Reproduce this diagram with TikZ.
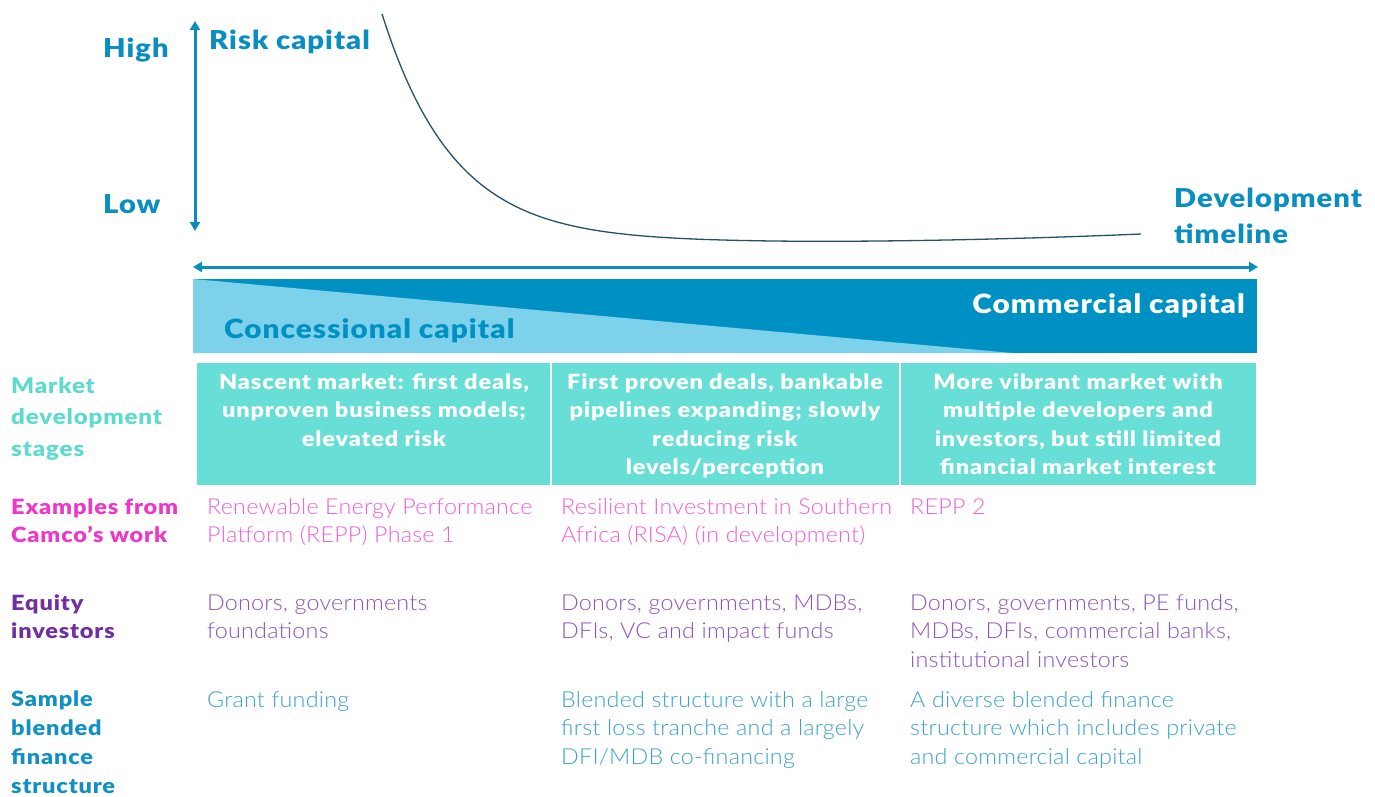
\documentclass[tikz,border=0pt]{standalone}
\usepackage{fontspec}
\setmainfont{Lato}
\newfontfamily\lightfont{Lato Light}[FakeStretch=1.06,LetterSpace=1]
\newfontfamily\heavyfont{Lato Black}[FakeStretch=1.12,LetterSpace=4]
\usetikzlibrary{arrows.meta}

\definecolor{axisblue}{RGB}{10,142,194}
\definecolor{bandblue}{RGB}{0,145,196}
\definecolor{bandlight}{RGB}{125,209,234}
\definecolor{stageteal}{RGB}{103,222,214}
\definecolor{labelteal}{RGB}{96,218,208}
\definecolor{pinklabel}{RGB}{236,56,200}
\definecolor{pinkbody}{RGB}{240,96,212}
\definecolor{purplelabel}{RGB}{112,48,160}
\definecolor{purplebody}{RGB}{142,82,184}
\definecolor{bluelabel}{RGB}{17,144,196}
\definecolor{bluebody}{RGB}{58,162,207}
\definecolor{curveslate}{RGB}{36,80,106}

% multi-line nodes are placed by the baseline of their last line
\begin{document}
\begin{tikzpicture}[x=1pt,y=-1pt,
  axisarrow/.style={axisblue,line width=3pt,
    {Triangle[length=9pt,width=10pt]}-{Triangle[length=9pt,width=10pt]}},
  bigtitle/.style={anchor=base west,inner sep=0pt,text=axisblue,
    font=\fontsize{26}{36}\selectfont\heavyfont,align=left},
  bandtext/.style={anchor=base west,inner sep=0pt,
    font=\fontsize{26.5}{34}\selectfont\heavyfont},
  stagebox/.style={fill=stageteal,draw=none},
  stagetext/.style={anchor=base,inner sep=0pt,text=white,align=center,
    font=\fontsize{21}{28.5}\selectfont\heavyfont},
  rowlabel/.style={anchor=base west,inner sep=0pt,align=left,
    font=\fontsize{21}{28.7}\selectfont\heavyfont},
  bodytext/.style={anchor=base west,inner sep=0pt,align=left,
    font=\fontsize{22}{28.7}\selectfont\lightfont},
]
\useasboundingbox (0,0) rectangle (1375,796);

% axes
\coordinate (ytop) at (195,21);
\coordinate (ybot) at (195,231);
\draw[axisarrow] (ytop) -- (ybot);
\coordinate (xleft) at (193,267);
\coordinate (xright) at (1258,267);
\draw[axisarrow] (xleft) -- (xright);

\node[bigtitle] (high) at (103,57) {High};
\node[bigtitle] (low) at (103,213) {Low};
\node[bigtitle] (risk) at (209,49) {Risk capital};
\node[bigtitle] (timeline) at (1174,243) {Development\\timeline};

% risk curve: exponential decay that turns slightly upwards at the end
\draw[curveslate,line width=1.3pt,line join=round] plot[domain=382:1141,samples=160]
  (\x,{242-228*exp(-(\x-382)/72)-8*(max(0,\x-760)/381)^2});

% capital band
\fill[bandblue] (193,279) rectangle (1257,353);
\fill[bandlight] (193,279) -- (1012,353) -- (193,353) -- cycle;
\node[bandtext,text=white,anchor=base east] (commercial) at (1245,313) {Commercial capital};
\node[bandtext,text=bandblue] (concessional) at (224,338) {Concessional capital};

% market stages
\fill[stagebox] (197,363) rectangle (550,485);
\fill[stagebox] (552,363) rectangle (899,485);
\fill[stagebox] (901,363) rectangle (1256,485);
\node[stagetext] (stage1) at (374,446) {Nascent market: first deals,\\unproven business models;\\elevated risk};
\node[stagetext] (stage2) at (725,474.5) {First proven deals, bankable\\pipelines expanding; slowly\\reducing risk\\levels/perception};
\node[stagetext] (stage3) at (1078,474.5) {More vibrant market with\\multiple developers and\\investors, but still limited\\financial market interest};

% row labels
\node[rowlabel,text=labelteal,font=\fontsize{21.5}{31.5}\selectfont\heavyfont] (lstages) at (11,456) {Market\\development\\stages};
\node[rowlabel,text=pinklabel] (lexamples) at (11,542.7) {Examples from\\Camco’s work};
\node[rowlabel,text=purplelabel] (lequity) at (11,638.7) {Equity\\investors};
\node[rowlabel,text=bluelabel] (lsample) at (11,793) {Sample\\blended\\finance\\structure};

% examples
\node[bodytext,text=pinkbody] (ex1) at (207,542.7) {Renewable Energy Performance\\Platform (REPP) Phase 1};
\node[bodytext,text=pinkbody] (ex2) at (561,542.7) {Resilient Investment in Southern\\Africa (RISA) (in development)};
\node[bodytext,text=pinkbody] (ex3) at (910,514) {REPP 2};

% equity investors
\node[bodytext,text=purplebody] (eq1) at (207,638.7) {Donors, governments\\foundations};
\node[bodytext,text=purplebody] (eq2) at (561,638.7) {Donors, governments, MDBs,\\DFIs, VC and impact funds};
\node[bodytext,text=purplebody] (eq3) at (910,667.4) {Donors, governments, PE funds,\\MDBs, DFIs, commercial banks,\\institutional investors};

% blended finance structures
\node[bodytext,text=bluebody] (bf1) at (207,707) {Grant funding};
\node[bodytext,text=bluebody] (bf2) at (561,764.4) {Blended structure with a large\\first loss tranche and a largely\\DFI/MDB co-financing};
\node[bodytext,text=bluebody] (bf3) at (910,764.4) {A diverse blended finance\\structure which includes private\\and commercial capital};
\end{tikzpicture}
\end{document}
